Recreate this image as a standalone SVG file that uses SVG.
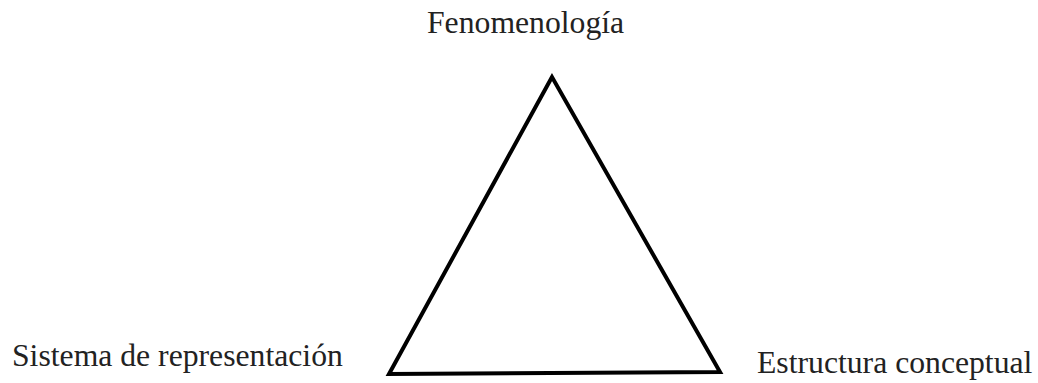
<svg xmlns="http://www.w3.org/2000/svg" width="1038" height="383" viewBox="0 0 1038 383">
<style>
text{font-family:"Liberation Serif","Times New Roman",serif;font-size:31.7px;fill:#222}
.edge{fill:none;stroke:#000;stroke-width:4;stroke-linejoin:miter}
</style>
<rect width="1038" height="383" fill="#fff"/>
<g id="connectors">
<polygon class="edge" points="552,77 389,374 720,372"/>
</g>
<g id="fenomenologia"><text x="427" y="33">Fenomenología</text></g>
<g id="sistema"><text x="12" y="366">Sistema de representación</text></g>
<g id="estructura"><text x="757" y="373">Estructura conceptual</text></g>
</svg>
